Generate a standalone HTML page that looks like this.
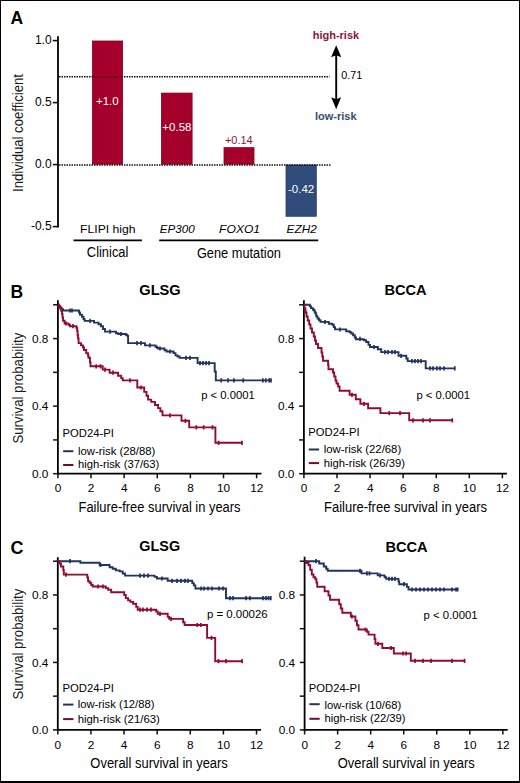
<!DOCTYPE html><html><head><meta charset="utf-8"><style>html,body{margin:0;padding:0;background:#fff;width:520px;height:783px;overflow:hidden}svg{display:block}text{font-family:"Liberation Sans",sans-serif}</style></head><body>
<svg width="520" height="783" viewBox="0 0 520 783">
<rect x="0" y="0" width="520" height="783" fill="#fff"/>
<text x="10.6" y="23.6" font-size="17.5" font-weight="bold" fill="#000">A</text>
<text transform="translate(23.4,192) rotate(-90)" font-size="14" textLength="118" lengthAdjust="spacingAndGlyphs" fill="#1a1a1a">Individual coefficient</text>
<line x1="59" y1="76.8" x2="329.5" y2="76.8" stroke="#111" stroke-width="1.5" stroke-dasharray="1.5 1"/>
<rect x="92.4" y="41" width="30.2" height="123.2" fill="#a5002b" stroke="#86001f" stroke-width="0.8"/>
<rect x="161.4" y="93.08" width="30.7" height="71.12" fill="#a5002b" stroke="#86001f" stroke-width="0.8"/>
<rect x="224" y="147.64" width="30" height="16.56" fill="#a5002b" stroke="#86001f" stroke-width="0.8"/>
<rect x="286" y="165" width="30.3" height="51.28" fill="#2f4c7a" stroke="#263f69" stroke-width="0.8"/>
<line x1="92.4" y1="76.8" x2="122.6" y2="76.8" stroke="#6e001c" stroke-width="1.4" />
<line x1="59" y1="164.9" x2="331" y2="164.9" stroke="#111" stroke-width="1.5" stroke-dasharray="1.5 1"/>
<line x1="58" y1="36.3" x2="58" y2="227.4" stroke="#000" stroke-width="1.8" />
<line x1="52.8" y1="40.6" x2="58" y2="40.6" stroke="#111" stroke-width="1.6" />
<text x="51.6" y="43.6" font-size="12" text-anchor="end">1.0</text>
<line x1="52.8" y1="102.6" x2="58" y2="102.6" stroke="#111" stroke-width="1.6" />
<text x="51.6" y="105.6" font-size="12" text-anchor="end">0.5</text>
<line x1="52.8" y1="164.6" x2="58" y2="164.6" stroke="#111" stroke-width="1.6" />
<text x="51.6" y="167.6" font-size="12" text-anchor="end">0.0</text>
<line x1="52.8" y1="226.6" x2="58" y2="226.6" stroke="#111" stroke-width="1.6" />
<text x="51.6" y="229.6" font-size="12" text-anchor="end">-0.5</text>
<text x="107.3" y="104.9" font-size="11.5" text-anchor="middle" fill="#fff">+1.0</text>
<text x="176.9" y="130.9" font-size="11.5" text-anchor="middle" fill="#fff">+0.58</text>
<text x="238.8" y="143.7" font-size="11" text-anchor="middle" fill="#8a1538">+0.14</text>
<text x="301.1" y="193.2" font-size="11.5" text-anchor="middle" fill="#fff">-0.42</text>
<line x1="336.2" y1="55" x2="336.2" y2="99.5" stroke="#000" stroke-width="1.9" />
<path d="M336.2,45.2 L341.3,57.3 L336.2,55.3 L331.1,57.3 Z" fill="#000"/>
<path d="M336.2,109.2 L341.1,97.2 L336.2,99.2 L331.2,97.2 Z" fill="#000"/>
<text x="335.9" y="38.8" font-size="11" text-anchor="middle" font-weight="bold" fill="#8a1538">high-risk</text>
<text x="335.8" y="119.5" font-size="11" text-anchor="middle" font-weight="bold" fill="#3a4a6c">low-risk</text>
<text x="341.2" y="79.2" font-size="10.8">0.71</text>
<text x="107.8" y="232.5" font-size="11.8" text-anchor="middle" textLength="55.5" lengthAdjust="spacingAndGlyphs">FLIPI high</text>
<text x="177.2" y="232.7" font-size="11.6" text-anchor="middle" font-style="italic">EP300</text>
<text x="239.6" y="232.6" font-size="11.6" text-anchor="middle" font-style="italic" textLength="41" lengthAdjust="spacingAndGlyphs">FOXO1</text>
<text x="301.7" y="232.6" font-size="11.8" text-anchor="middle" font-style="italic">EZH2</text>
<line x1="73.5" y1="240.3" x2="141.9" y2="240.3" stroke="#000" stroke-width="1.8" />
<line x1="159.2" y1="240.3" x2="318.2" y2="240.3" stroke="#000" stroke-width="1.8" />
<text x="107.6" y="257.4" font-size="14" text-anchor="middle" textLength="41.5" lengthAdjust="spacingAndGlyphs">Clinical</text>
<text x="238.9" y="257.6" font-size="14" text-anchor="middle" textLength="84" lengthAdjust="spacingAndGlyphs">Gene mutation</text>
<text x="10.4" y="297.6" font-size="17.5" font-weight="bold" fill="#000">B</text>
<text x="10.6" y="553.7" font-size="18" font-weight="bold" fill="#000">C</text>
<text x="160" y="295" font-size="14.6" text-anchor="middle" font-weight="bold" fill="#000">GLSG</text>
<text x="405.5" y="295.2" font-size="14.6" text-anchor="middle" font-weight="bold" fill="#000">BCCA</text>
<text x="159.7" y="551.3" font-size="14.4" text-anchor="middle" font-weight="bold" fill="#000">GLSG</text>
<text x="406.6" y="551.7" font-size="14.6" text-anchor="middle" font-weight="bold" fill="#000">BCCA</text>
<text transform="translate(23.4,443.6) rotate(-90)" font-size="14" textLength="111" lengthAdjust="spacingAndGlyphs" fill="#1a1a1a">Survival probability</text>
<text transform="translate(23.4,699.6) rotate(-90)" font-size="14" textLength="111" lengthAdjust="spacingAndGlyphs" fill="#1a1a1a">Survival probability</text>
<text x="159.5" y="512.1" font-size="14" text-anchor="middle" textLength="162" lengthAdjust="spacingAndGlyphs">Failure-free survival in years</text>
<text x="405.5" y="512.3" font-size="14" text-anchor="middle" textLength="163" lengthAdjust="spacingAndGlyphs">Failure-free survival in years</text>
<text x="159.1" y="768.2" font-size="14" text-anchor="middle" textLength="137.5" lengthAdjust="spacingAndGlyphs">Overall survival in years</text>
<text x="406.3" y="768.3" font-size="14" text-anchor="middle" textLength="137" lengthAdjust="spacingAndGlyphs">Overall survival in years</text>
<line x1="57.9" y1="300.2" x2="57.9" y2="474.6" stroke="#000" stroke-width="1.8" />
<line x1="57" y1="473.7" x2="261.5" y2="473.7" stroke="#000" stroke-width="1.8" />
<line x1="53.1" y1="473.7" x2="57.9" y2="473.7" stroke="#111" stroke-width="1.5" />
<text x="48.4" y="477.8" font-size="11.8" text-anchor="end">0.0</text>
<line x1="53.1" y1="439.92" x2="57.9" y2="439.92" stroke="#111" stroke-width="1.5" />
<line x1="53.1" y1="406.14" x2="57.9" y2="406.14" stroke="#111" stroke-width="1.5" />
<text x="48.4" y="410.24" font-size="11.8" text-anchor="end">0.4</text>
<line x1="53.1" y1="372.36" x2="57.9" y2="372.36" stroke="#111" stroke-width="1.5" />
<line x1="53.1" y1="338.58" x2="57.9" y2="338.58" stroke="#111" stroke-width="1.5" />
<text x="48.4" y="342.68" font-size="11.8" text-anchor="end">0.8</text>
<line x1="53.1" y1="304.8" x2="57.9" y2="304.8" stroke="#111" stroke-width="1.5" />
<line x1="57.9" y1="473.7" x2="57.9" y2="478.3" stroke="#111" stroke-width="1.5" />
<text x="58" y="492.3" font-size="11.8" text-anchor="middle">0</text>
<line x1="91.02" y1="473.7" x2="91.02" y2="478.3" stroke="#111" stroke-width="1.5" />
<text x="91.12" y="492.3" font-size="11.8" text-anchor="middle">2</text>
<line x1="124.14" y1="473.7" x2="124.14" y2="478.3" stroke="#111" stroke-width="1.5" />
<text x="124.24" y="492.3" font-size="11.8" text-anchor="middle">4</text>
<line x1="157.26" y1="473.7" x2="157.26" y2="478.3" stroke="#111" stroke-width="1.5" />
<text x="157.36" y="492.3" font-size="11.8" text-anchor="middle">6</text>
<line x1="190.38" y1="473.7" x2="190.38" y2="478.3" stroke="#111" stroke-width="1.5" />
<text x="190.48" y="492.3" font-size="11.8" text-anchor="middle">8</text>
<line x1="223.5" y1="473.7" x2="223.5" y2="478.3" stroke="#111" stroke-width="1.5" />
<text x="223.6" y="492.3" font-size="11.8" text-anchor="middle">10</text>
<line x1="256.62" y1="473.7" x2="256.62" y2="478.3" stroke="#111" stroke-width="1.5" />
<text x="256.72" y="492.3" font-size="11.8" text-anchor="middle">12</text>
<path d="M57.9,304.8 H58.8 V306 H60 V307.5 H61.5 V309.2 H63 V310.5 H79 V312.5 H80 V314.8 H82 V316.8 H83.5 V319 H84.6 V320.9 H94 V322.6 H98.5 V324.2 H101 V326.3 H103 V329 H105 V331.6 H116 V333.2 H118.3 V334 H125.8 V334.8 H127 V335.6 H128.1 V343.1 H145 V345.4 H155.5 V346.8 H157 V347.7 H158.1 V348.5 H164.5 V350.2 H166.5 V351.5 H173.5 V353.1 H175.5 V355.4 H177.5 V356.5 H179.6 V357.9 H197.6 V363.1 H214.7 V371.5 H215.8 V380.4 H271" stroke="#22335f" stroke-width="1.9" fill="none" stroke-linejoin="miter"/>
<path d="M70,308.4 v4.2 M72,308.4 v4.2 M90,318.8 v4.2 M110,329.5 v4.2 M121,331.9 v4.2 M137,341 v4.2 M141,341 v4.2 M150,343.3 v4.2 M160,346.4 v4.2 M170,349.4 v4.2 M186,355.8 v4.2 M190,355.8 v4.2 M200,361 v4.2 M203,361 v4.2 M206,361 v4.2 M209,361 v4.2 M221.2,378.3 v4.2 M228.1,378.3 v4.2 M233.9,378.3 v4.2 M243.2,378.3 v4.2 M262.9,378.3 v4.2 M265.8,378.3 v4.2 M269.2,378.3 v4.2 M271,378.3 v4.2" stroke="#22335f" stroke-width="1.7" fill="none"/>
<path d="M57.9,304.8 H59 V306.5 H60.2 V308.5 H61.2 V310.8 H62 V314 H62.5 V317.5 H63 V320.8 H64.6 V323.5 H68.5 V324.8 H70 V326.2 H76.5 V328 H77.2 V331 H77.6 V335 H78 V338.4 H78.6 V343.1 H81 V345.4 H83 V347.5 H84 V350 H86.2 V353.1 H88 V355.5 H88.5 V357.7 H90 V362.3 H90.5 V366.3 H102.7 V369.6 H109.6 V372.7 H118.1 V375.8 H121.2 V378.1 H122.7 V380.4 H137.3 V387.5 H144.2 V391.9 H146.5 V395.8 H148.1 V399.6 H151.2 V401.9 H155 V405 H158.1 V408.1 H160.4 V411.2 H162.5 V415.4 H181.5 V420.8 H189.2 V427.4 H215.4 V442.8 H242" stroke="#920b34" stroke-width="1.9" fill="none" stroke-linejoin="miter"/>
<path d="M66,321.4 v4.2 M73,324.1 v4.2 M96.2,364.2 v4.2 M100.5,364.2 v4.2 M105,367.5 v4.2 M113,370.6 v4.2 M130,378.3 v4.2 M141,385.4 v4.2 M170,413.3 v4.2 M185.4,418.7 v4.2 M196.3,425.3 v4.2 M203.7,425.3 v4.2 M212.5,425.3 v4.2 M218.6,440.7 v4.2 M242,440.7 v4.2" stroke="#920b34" stroke-width="1.7" fill="none"/>
<line x1="303.9" y1="300.2" x2="303.9" y2="474.6" stroke="#000" stroke-width="1.8" />
<line x1="303" y1="473.7" x2="506.9" y2="473.7" stroke="#000" stroke-width="1.8" />
<line x1="299.1" y1="473.7" x2="303.9" y2="473.7" stroke="#111" stroke-width="1.5" />
<text x="294.4" y="477.8" font-size="11.8" text-anchor="end">0.0</text>
<line x1="299.1" y1="439.92" x2="303.9" y2="439.92" stroke="#111" stroke-width="1.5" />
<line x1="299.1" y1="406.14" x2="303.9" y2="406.14" stroke="#111" stroke-width="1.5" />
<text x="294.4" y="410.24" font-size="11.8" text-anchor="end">0.4</text>
<line x1="299.1" y1="372.36" x2="303.9" y2="372.36" stroke="#111" stroke-width="1.5" />
<line x1="299.1" y1="338.58" x2="303.9" y2="338.58" stroke="#111" stroke-width="1.5" />
<text x="294.4" y="342.68" font-size="11.8" text-anchor="end">0.8</text>
<line x1="299.1" y1="304.8" x2="303.9" y2="304.8" stroke="#111" stroke-width="1.5" />
<line x1="303.9" y1="473.7" x2="303.9" y2="478.3" stroke="#111" stroke-width="1.5" />
<text x="304" y="492.3" font-size="11.8" text-anchor="middle">0</text>
<line x1="336.98" y1="473.7" x2="336.98" y2="478.3" stroke="#111" stroke-width="1.5" />
<text x="337.08" y="492.3" font-size="11.8" text-anchor="middle">2</text>
<line x1="370.06" y1="473.7" x2="370.06" y2="478.3" stroke="#111" stroke-width="1.5" />
<text x="370.16" y="492.3" font-size="11.8" text-anchor="middle">4</text>
<line x1="403.14" y1="473.7" x2="403.14" y2="478.3" stroke="#111" stroke-width="1.5" />
<text x="403.24" y="492.3" font-size="11.8" text-anchor="middle">6</text>
<line x1="436.22" y1="473.7" x2="436.22" y2="478.3" stroke="#111" stroke-width="1.5" />
<text x="436.32" y="492.3" font-size="11.8" text-anchor="middle">8</text>
<line x1="469.3" y1="473.7" x2="469.3" y2="478.3" stroke="#111" stroke-width="1.5" />
<text x="469.4" y="492.3" font-size="11.8" text-anchor="middle">10</text>
<line x1="502.38" y1="473.7" x2="502.38" y2="478.3" stroke="#111" stroke-width="1.5" />
<text x="502.48" y="492.3" font-size="11.8" text-anchor="middle">12</text>
<path d="M303.9,304.8 H309.8 V306.3 H311 V308.1 H313 V309.8 H314.4 V311.5 H315.2 V313.3 H316.2 V316.2 H317.5 V318.5 H319 V320.2 H320.5 V321.9 H328.8 V323.7 H332.3 V324.8 H333.8 V327.1 H335 V329.4 H346.2 V331.2 H349.6 V332.3 H351.3 V333.5 H353.1 V335.2 H354.8 V337.5 H356 V339.2 H363.8 V340.3 H366.2 V342 H368.5 V344.9 H370 V347 H377.8 V349.2 H381.2 V352.1 H398.5 V355.8 H406.3 V358.5 H407.7 V361.1 H425.7 V368.4 H454.8" stroke="#22335f" stroke-width="1.9" fill="none" stroke-linejoin="miter"/>
<path d="M325,319.9 v4.2 M340,327.4 v4.2 M360,336.7 v4.2 M374,344.9 v4.2 M385,350 v4.2 M388,350 v4.2 M392,350 v4.2 M395,350 v4.2 M401,353.7 v4.2 M412,359 v4.2 M415,359 v4.2 M418,359 v4.2 M421,359 v4.2 M430,366.3 v4.2 M433,366.3 v4.2 M437,366.3 v4.2 M440,366.3 v4.2 M444,366.3 v4.2 M454.8,366.3 v4.2" stroke="#22335f" stroke-width="1.7" fill="none"/>
<path d="M303.9,304.8 H304.5 V308.5 H305.5 V312.5 H306.5 V316.5 H307.7 V320.5 H309.2 V324.5 H310.5 V328.5 H312 V332.5 H313.8 V336.5 H315 V340.5 H316 V344 H318 V348 H321.5 V352.5 H322.3 V356.5 H323 V360.8 H328.1 V365 H328.5 V369.2 H333 V372.5 H334.2 V376.5 H335.5 V380.5 H336.5 V383.5 H338.1 V386.5 H339.6 V390.8 H349.6 V394.8 H355.8 V399.2 H360.4 V403.8 H368.1 V408.2 H380.4 V413.1 H409.2 V420.3 H452.3" stroke="#920b34" stroke-width="1.9" fill="none" stroke-linejoin="miter"/>
<path d="M352,392.7 v4.2 M364,401.7 v4.2 M389.3,411 v4.2 M400,411 v4.2 M413,418.2 v4.2 M423,418.2 v4.2 M430,418.2 v4.2 M452.3,418.2 v4.2" stroke="#920b34" stroke-width="1.7" fill="none"/>
<line x1="57.8" y1="557.2" x2="57.8" y2="730.8" stroke="#000" stroke-width="1.8" />
<line x1="56.9" y1="729.9" x2="261.1" y2="729.9" stroke="#000" stroke-width="1.8" />
<line x1="53" y1="729.9" x2="57.8" y2="729.9" stroke="#111" stroke-width="1.5" />
<text x="48.3" y="734" font-size="11.8" text-anchor="end">0.0</text>
<line x1="53" y1="696.16" x2="57.8" y2="696.16" stroke="#111" stroke-width="1.5" />
<line x1="53" y1="662.42" x2="57.8" y2="662.42" stroke="#111" stroke-width="1.5" />
<text x="48.3" y="666.52" font-size="11.8" text-anchor="end">0.4</text>
<line x1="53" y1="628.68" x2="57.8" y2="628.68" stroke="#111" stroke-width="1.5" />
<line x1="53" y1="594.94" x2="57.8" y2="594.94" stroke="#111" stroke-width="1.5" />
<text x="48.3" y="599.04" font-size="11.8" text-anchor="end">0.8</text>
<line x1="53" y1="561.2" x2="57.8" y2="561.2" stroke="#111" stroke-width="1.5" />
<line x1="57.8" y1="729.9" x2="57.8" y2="734.5" stroke="#111" stroke-width="1.5" />
<text x="57.9" y="748.5" font-size="11.8" text-anchor="middle">0</text>
<line x1="90.92" y1="729.9" x2="90.92" y2="734.5" stroke="#111" stroke-width="1.5" />
<text x="91.02" y="748.5" font-size="11.8" text-anchor="middle">2</text>
<line x1="124.04" y1="729.9" x2="124.04" y2="734.5" stroke="#111" stroke-width="1.5" />
<text x="124.14" y="748.5" font-size="11.8" text-anchor="middle">4</text>
<line x1="157.16" y1="729.9" x2="157.16" y2="734.5" stroke="#111" stroke-width="1.5" />
<text x="157.26" y="748.5" font-size="11.8" text-anchor="middle">6</text>
<line x1="190.28" y1="729.9" x2="190.28" y2="734.5" stroke="#111" stroke-width="1.5" />
<text x="190.38" y="748.5" font-size="11.8" text-anchor="middle">8</text>
<line x1="223.4" y1="729.9" x2="223.4" y2="734.5" stroke="#111" stroke-width="1.5" />
<text x="223.5" y="748.5" font-size="11.8" text-anchor="middle">10</text>
<line x1="256.52" y1="729.9" x2="256.52" y2="734.5" stroke="#111" stroke-width="1.5" />
<text x="256.62" y="748.5" font-size="11.8" text-anchor="middle">12</text>
<path d="M57.8,561.2 H80.4 V562.8 H99.6 V565 H109.6 V567.3 H112.7 V568.8 H115.8 V570.4 H119.6 V571.4 H122.7 V573.5 H125 V575.6 H154.6 V576.9 H156.9 V578.5 H167.7 V580.8 H192.3 V583.1 H193.8 V585.4 H195.4 V588.5 H226 V598.2 H270.8" stroke="#22335f" stroke-width="1.9" fill="none" stroke-linejoin="miter"/>
<path d="M70,559.1 v4.2 M100.5,562.9 v4.2 M140,573.5 v4.2 M144,573.5 v4.2 M148,573.5 v4.2 M162,576.4 v4.2 M172,578.7 v4.2 M177,578.7 v4.2 M181,578.7 v4.2 M185,578.7 v4.2 M188,578.7 v4.2 M201,586.4 v4.2 M204,586.4 v4.2 M208,586.4 v4.2 M212,586.4 v4.2 M219,586.4 v4.2 M223,586.4 v4.2 M230,596.1 v4.2 M233,596.1 v4.2 M246,596.1 v4.2 M250,596.1 v4.2 M263,596.1 v4.2 M266,596.1 v4.2 M268.5,596.1 v4.2 M270.8,596.1 v4.2" stroke="#22335f" stroke-width="1.7" fill="none"/>
<path d="M57.8,561.2 H59.5 V563.5 H61 V566.5 H63.3 V570 H63.8 V574.6 H87.3 V577.5 H88.1 V581.2 H89.6 V582.7 H91.2 V585 H92.7 V586.5 H105.8 V588.1 H108.1 V589.8 H111.2 V592.3 H124.2 V595 H125.8 V598.1 H128.1 V600.4 H130.4 V601.9 H133.1 V603.8 H136.2 V606.9 H137.7 V609.7 H156.2 V611.5 H157.7 V613.8 H167.7 V616.9 H169.2 V618.9 H183.1 V622.3 H184.6 V625 H207.1 V637.9 H215.2 V661.2 H242.1" stroke="#920b34" stroke-width="1.9" fill="none" stroke-linejoin="miter"/>
<path d="M66,572.5 v4.2 M98,584.4 v4.2 M103,584.4 v4.2 M140,607.6 v4.2 M143,607.6 v4.2 M147,607.6 v4.2 M151,607.6 v4.2 M160,611.7 v4.2 M171,616.8 v4.2 M197.3,622.9 v4.2 M200.8,622.9 v4.2 M211.5,635.8 v4.2 M218.5,659.1 v4.2 M226,659.1 v4.2 M242.1,659.1 v4.2" stroke="#920b34" stroke-width="1.7" fill="none"/>
<line x1="304.6" y1="556.7" x2="304.6" y2="730.8" stroke="#000" stroke-width="1.8" />
<line x1="303.7" y1="729.9" x2="507.7" y2="729.9" stroke="#000" stroke-width="1.8" />
<line x1="299.8" y1="729.9" x2="304.6" y2="729.9" stroke="#111" stroke-width="1.5" />
<text x="295.1" y="734" font-size="11.8" text-anchor="end">0.0</text>
<line x1="299.8" y1="696.16" x2="304.6" y2="696.16" stroke="#111" stroke-width="1.5" />
<line x1="299.8" y1="662.42" x2="304.6" y2="662.42" stroke="#111" stroke-width="1.5" />
<text x="295.1" y="666.52" font-size="11.8" text-anchor="end">0.4</text>
<line x1="299.8" y1="628.68" x2="304.6" y2="628.68" stroke="#111" stroke-width="1.5" />
<line x1="299.8" y1="594.94" x2="304.6" y2="594.94" stroke="#111" stroke-width="1.5" />
<text x="295.1" y="599.04" font-size="11.8" text-anchor="end">0.8</text>
<line x1="299.8" y1="561.2" x2="304.6" y2="561.2" stroke="#111" stroke-width="1.5" />
<line x1="304.6" y1="729.9" x2="304.6" y2="734.5" stroke="#111" stroke-width="1.5" />
<text x="304.7" y="748.5" font-size="11.8" text-anchor="middle">0</text>
<line x1="337.64" y1="729.9" x2="337.64" y2="734.5" stroke="#111" stroke-width="1.5" />
<text x="337.74" y="748.5" font-size="11.8" text-anchor="middle">2</text>
<line x1="370.68" y1="729.9" x2="370.68" y2="734.5" stroke="#111" stroke-width="1.5" />
<text x="370.78" y="748.5" font-size="11.8" text-anchor="middle">4</text>
<line x1="403.72" y1="729.9" x2="403.72" y2="734.5" stroke="#111" stroke-width="1.5" />
<text x="403.82" y="748.5" font-size="11.8" text-anchor="middle">6</text>
<line x1="436.76" y1="729.9" x2="436.76" y2="734.5" stroke="#111" stroke-width="1.5" />
<text x="436.86" y="748.5" font-size="11.8" text-anchor="middle">8</text>
<line x1="469.8" y1="729.9" x2="469.8" y2="734.5" stroke="#111" stroke-width="1.5" />
<text x="469.9" y="748.5" font-size="11.8" text-anchor="middle">10</text>
<line x1="502.84" y1="729.9" x2="502.84" y2="734.5" stroke="#111" stroke-width="1.5" />
<text x="502.94" y="748.5" font-size="11.8" text-anchor="middle">12</text>
<path d="M304.6,561.2 H319.2 V563.5 H323.8 V566.5 H326.2 V568.8 H327.7 V570.8 H361.5 V573.4 H377.7 V575.4 H384.6 V577.2 H386.2 V578.9 H398.5 V581.5 H399.2 V584.2 H406.9 V586.9 H408.5 V589.5 H457.7" stroke="#22335f" stroke-width="1.9" fill="none" stroke-linejoin="miter"/>
<path d="M316,559.1 v4.2 M360,568.7 v4.2 M367,571.3 v4.2 M369.5,571.3 v4.2 M380,573.3 v4.2 M389,576.8 v4.2 M392,576.8 v4.2 M395,576.8 v4.2 M404,582.1 v4.2 M412,587.4 v4.2 M416,587.4 v4.2 M420,587.4 v4.2 M424,587.4 v4.2 M428,587.4 v4.2 M432,587.4 v4.2 M436,587.4 v4.2 M440,587.4 v4.2 M444,587.4 v4.2 M452,587.4 v4.2 M456,587.4 v4.2 M457.7,587.4 v4.2" stroke="#22335f" stroke-width="1.7" fill="none"/>
<path d="M304.6,561.2 H306 V563 H308.5 V565.2 H310.2 V569.8 H311.8 V574.5 H313.5 V577.3 H315.3 V579.1 H316.4 V582.5 H317.2 V586.8 H324.6 V591.2 H328.5 V595.5 H330 V599.8 H339.2 V604.2 H340.8 V608.5 H342.3 V612.7 H350.8 V616.5 H355.4 V620.8 H356.9 V625.2 H358.5 V629.5 H366.9 V631.8 H368.5 V634.6 H374.6 V639 H375.4 V643.8 H382.3 V648 H393.8 V653.5 H410.8 V660.8 H464.6" stroke="#920b34" stroke-width="1.9" fill="none" stroke-linejoin="miter"/>
<path d="M352,614.4 v4.2 M365.4,627.4 v4.2 M378,641.7 v4.2 M391,645.9 v4.2 M403,651.4 v4.2 M406,651.4 v4.2 M415,658.7 v4.2 M423,658.7 v4.2 M431,658.7 v4.2 M452,658.7 v4.2 M464.6,658.7 v4.2" stroke="#920b34" stroke-width="1.7" fill="none"/>
<text x="201.2" y="398.7" font-size="11.2" textLength="53.6" lengthAdjust="spacingAndGlyphs">p &lt; 0.0001</text>
<text x="416.5" y="398.8" font-size="11.2" textLength="53.4" lengthAdjust="spacingAndGlyphs">p &lt; 0.0001</text>
<text x="206.9" y="617.5" font-size="11.2" textLength="60.8" lengthAdjust="spacingAndGlyphs">p = 0.00026</text>
<text x="423.6" y="618.7" font-size="11.2" textLength="54" lengthAdjust="spacingAndGlyphs">p &lt; 0.0001</text>
<text x="62.5" y="436.9" font-size="11.2" textLength="51.5" lengthAdjust="spacingAndGlyphs">POD24-PI</text>
<line x1="63.1" y1="451.2" x2="73.4" y2="451.2" stroke="#24345a" stroke-width="2" />
<line x1="63.1" y1="465" x2="73.4" y2="465" stroke="#750a2e" stroke-width="2" />
<text x="77.9" y="454.6" font-size="11.2" textLength="77.5" lengthAdjust="spacingAndGlyphs">low-risk (28/88)</text>
<text x="77.9" y="468.1" font-size="11.2" textLength="81.5" lengthAdjust="spacingAndGlyphs">high-risk (37/63)</text>
<text x="308.2" y="435.8" font-size="11.2" textLength="51.5" lengthAdjust="spacingAndGlyphs">POD24-PI</text>
<line x1="308.8" y1="449.5" x2="319.1" y2="449.5" stroke="#24345a" stroke-width="2" />
<line x1="308.8" y1="463.1" x2="319.1" y2="463.1" stroke="#750a2e" stroke-width="2" />
<text x="323.7" y="453.1" font-size="11.2" textLength="77.5" lengthAdjust="spacingAndGlyphs">low-risk (22/68)</text>
<text x="323.7" y="466.5" font-size="11.2" textLength="81.2" lengthAdjust="spacingAndGlyphs">high-risk (26/39)</text>
<text x="62.5" y="691.5" font-size="11.2" textLength="51.5" lengthAdjust="spacingAndGlyphs">POD24-PI</text>
<line x1="63.1" y1="704.6" x2="73.4" y2="704.6" stroke="#24345a" stroke-width="2" />
<line x1="63.1" y1="719.1" x2="73.4" y2="719.1" stroke="#750a2e" stroke-width="2" />
<text x="77.7" y="708.3" font-size="11.2" textLength="76.8" lengthAdjust="spacingAndGlyphs">low-risk (12/88)</text>
<text x="77.7" y="722.5" font-size="11.2" textLength="82.2" lengthAdjust="spacingAndGlyphs">high-risk (21/63)</text>
<text x="308.8" y="691.5" font-size="11.2" textLength="51.5" lengthAdjust="spacingAndGlyphs">POD24-PI</text>
<line x1="309.4" y1="704.2" x2="319.7" y2="704.2" stroke="#24345a" stroke-width="2" />
<line x1="309.4" y1="718.8" x2="319.7" y2="718.8" stroke="#750a2e" stroke-width="2" />
<text x="324.4" y="708.8" font-size="11.2" textLength="76.8" lengthAdjust="spacingAndGlyphs">low-risk (10/68)</text>
<text x="324.4" y="722" font-size="11.2" textLength="81.2" lengthAdjust="spacingAndGlyphs">high-risk (22/39)</text>
<rect x="0" y="0" width="520" height="1" fill="#000"/>
<rect x="0" y="0" width="1" height="783" fill="#000"/>
<rect x="519" y="0" width="1" height="783" fill="#000"/>
<rect x="0" y="781" width="520" height="2" fill="#000"/>
</svg></body></html>
